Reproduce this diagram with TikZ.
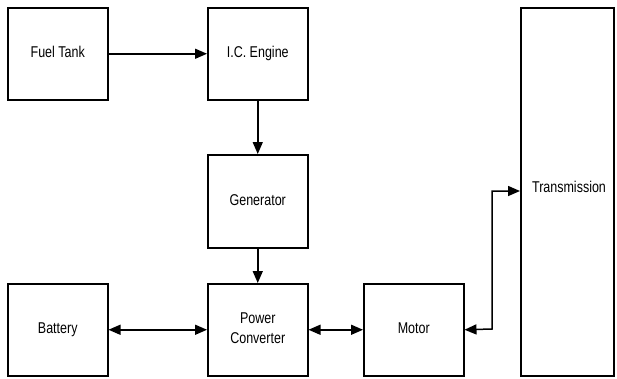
\documentclass[tikz,border=0pt]{standalone}
\usepackage{fontspec}
\usepackage{graphicx}
\setmainfont{Liberation Sans}
\usetikzlibrary{arrows.meta}
\newcommand\stxt[1]{\scalebox{1}[1.25]{\begin{tabular}{@{}c@{}}#1\end{tabular}}}
\begin{document}
\begin{tikzpicture}[x=1pt,y=-1pt,
  blk/.style={draw=black,line width=1.5pt,inner sep=0pt,anchor=north west,align=center,
    minimum width=100pt,minimum height=92pt,
    font=\fontsize{12.5}{15.5}\selectfont},
  conn/.style={line width=1.5pt,-{Triangle[length=12pt,width=10pt]}},
  bconn/.style={line width=1.5pt,{Triangle[length=12pt,width=10pt]}-{Triangle[length=12pt,width=10pt]}}]
\useasboundingbox (0,0) rectangle (617,378);
\node[blk] (fuel) at (7,7) {\stxt{Fuel Tank}};
\node[blk] (ice) at (207,7) {\stxt{I.C. Engine}};
\node[blk,minimum height=93pt] (gen) at (207,154) {\stxt{Generator}};
\node[blk] (bat) at (7,283) {\stxt{Battery}};
\node[blk] (pc) at (207,283) {\stxt{Power\\Converter}};
\node[blk] (mot) at (363,283) {\stxt{Motor}};
\node[draw=black,line width=1.5pt,inner sep=0pt,anchor=north west,minimum width=93pt,minimum height=368pt] (tr) at (520,7) {};
\node[font=\fontsize{12.5}{15}\selectfont] (trl) at (569,189) {\stxt{Transmission}};
\draw[conn] (fuel.east) -- (ice.west);
\draw[conn] (ice.south) -- (gen.north);
\draw[conn] (gen.south) -- (pc.north);
\draw[bconn] (bat.east) -- (pc.west);
\draw[bconn] (pc.east) -- (mot.west);
\coordinate (tin) at (tr.west |- 0,191);
\draw[bconn] (mot.east) -- (492,329) |- (tin);
\end{tikzpicture}
\end{document}
